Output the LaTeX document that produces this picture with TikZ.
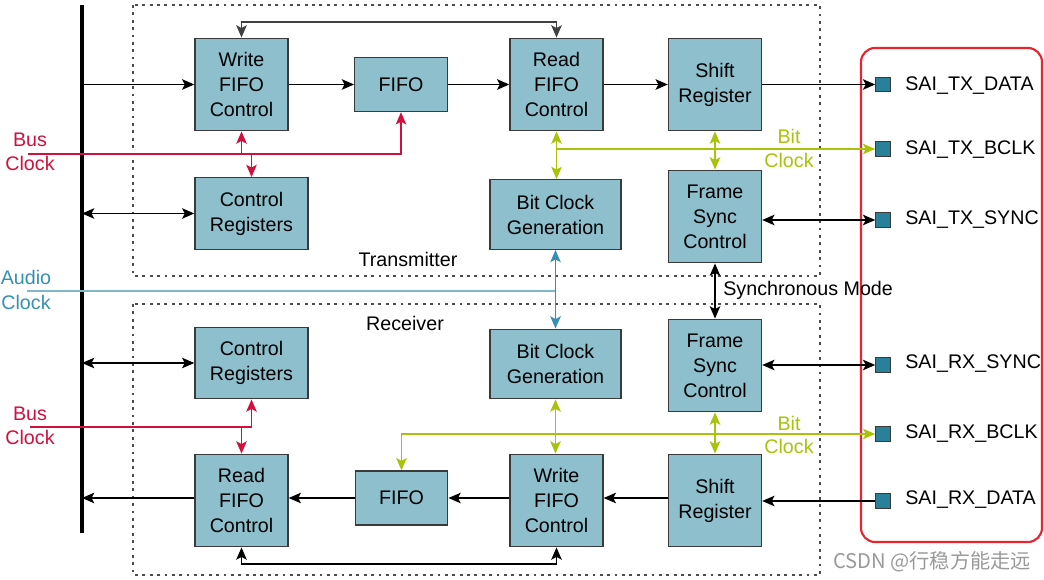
\documentclass[tikz,border=0pt]{standalone}
\usepackage{fontspec}
\setmainfont{Liberation Sans}
\newfontfamily\cjkfont{Noto Sans CJK SC}
\usetikzlibrary{arrows.meta}
\definecolor{boxfill}{HTML}{8DBFCD}
\definecolor{boxline}{HTML}{3A3A3A}
\definecolor{pinfill}{HTML}{2A8098}
\definecolor{busred}{HTML}{D1103D}
\definecolor{bitylw}{HTML}{A9C20A}
\definecolor{audioteal}{HTML}{3590B3}
\definecolor{audioline}{HTML}{7FB8CB}
\definecolor{framered}{HTML}{E8242C}
\tikzset{
  >={Stealth[length=7pt,width=6pt,inset=1.6pt]},
  blk/.style={draw=boxline,fill=boxfill,line width=0.8pt,align=center,inner sep=0pt,font=\fontsize{11.2}{14.2}\selectfont},
  tall/.style={minimum width=1.86cm,minimum height=1.85cm},
  flat/.style={minimum width=1.85cm,minimum height=1.08cm},
  wide/.style={minimum width=2.26cm,minimum height=1.43cm},
  wider/.style={minimum width=2.62cm,minimum height=1.39cm},
  pin/.style={draw=boxline,fill=pinfill,minimum size=0.29cm,inner sep=0pt,line width=0.6pt},
  txt/.style={align=center,inner sep=0pt,font=\fontsize{11.2}{14.2}\selectfont},
  pinlbl/.style={txt,anchor=west},
  redtxt/.style={txt,text=busred,font=\fontsize{11.2}{13.6}\selectfont},
  ylwtxt/.style={txt,text=bitylw,font=\fontsize{11.2}{13.6}\selectfont},
  tealtxt/.style={txt,text=audioteal,font=\fontsize{11.2}{14.2}\selectfont},
  arr/.style={->,line width=0.7pt},
  dblarr/.style={<->,line width=0.7pt},
  redarr/.style={->,busred,line width=0.7pt},
  ylwarr/.style={bitylw,line width=0.7pt},
  tealarr/.style={<->,audioteal,line width=0.7pt},
  tealln/.style={audioline,line width=0.8pt},
  bus/.style={line width=1.8pt},
  dotbox/.style={draw=black!70,line width=0.6pt,dash pattern=on 1.6pt off 2.6pt},
  redbox/.style={draw=framered,line width=1.2pt,rounded corners=8pt}
}
\begin{document}
\begin{tikzpicture}[x=0.02cm,y=-0.02cm]
\useasboundingbox (0,0) rectangle (1044,580);
\draw[dotbox] (133,5) rectangle (820,276);
\draw[dotbox] (133,304) rectangle (820,575);
\draw[redbox] (861,48) rectangle (1042,542);
\coordinate (bustop) at (82,5);
\coordinate (busbot) at (82,533);
\draw[bus] (bustop) -- (busbot);

\node[blk,tall] (txwfc) at (241.5,84.5) {Write\\FIFO\\Control};
\node[blk,flat] (txfifo) at (401,84.5) {FIFO};
\node[blk,tall] (txrfc) at (556.5,84.5) {Read\\FIFO\\Control};
\node[blk,tall] (txsr) at (715,84.5) {Shift\\Register};
\node[blk,wide] (txcr) at (251.5,213.5) {Control\\Registers};
\node[blk,wider] (txbcg) at (555.5,214.5) {Bit Clock\\Generation};
\node[blk,tall] (txfsc) at (715,216.5) {Frame\\Sync\\Control};

\node[blk,wide] (rxcr) at (251.5,363) {Control\\Registers};
\node[blk,wider] (rxbcg) at (555.5,364) {Bit Clock\\Generation};
\node[blk,tall] (rxfsc) at (715,365.5) {Frame\\Sync\\Control};
\node[blk,tall] (rxrfc) at (241.5,500.5) {Read\\FIFO\\Control};
\node[blk,flat] (rxfifo) at (401.5,498) {FIFO};
\node[blk,tall] (rxwfc) at (556.5,500.5) {Write\\FIFO\\Control};
\node[blk,tall] (rxsr) at (715,500.5) {Shift\\Register};

\node[pin] (txdata) at (883,84.5) {};
\node[pin] (txbclk) at (883,149) {};
\node[pin] (txsync) at (883,220) {};
\node[pin] (rxsync) at (883,365) {};
\node[pin] (rxbclk) at (883,434) {};
\node[pin] (rxdata) at (883,501) {};
\node[pinlbl] (txdatalbl) at (905,86) {SAI\_TX\_DATA};
\node[pinlbl] (txbclklbl) at (905,150) {SAI\_TX\_BCLK};
\node[pinlbl] (txsynclbl) at (905,220) {SAI\_TX\_SYNC};
\node[pinlbl] (rxsynclbl) at (905,364) {SAI\_RX\_SYNC};
\node[pinlbl] (rxbclklbl) at (905,434) {SAI\_RX\_BCLK};
\node[pinlbl] (rxdatalbl) at (905,500) {SAI\_RX\_DATA};

\draw[arr] (txwfc.west -| bustop) -- (txwfc.west);
\draw[arr] (txwfc) -- (txfifo);
\draw[arr] (txfifo) -- (txrfc);
\draw[arr] (txrfc) -- (txsr);
\draw[arr] (txsr) -- (txdata);
\draw[dblarr] (txcr.west -| bustop) -- (txcr.west);
\coordinate (txfb) at (400,22);
\draw[dblarr,black!75] (txwfc.north) |- (txfb) -| (txrfc.north);
\draw[dblarr] (txsync.west -| txfsc.east) -- (txsync.west);

\coordinate (txbus) at (28,154);
\draw[redarr] (txbus) -| (txfifo.south);
\draw[redarr] (txwfc.south |- txbus) -- (txwfc.south);
\draw[redarr] (txcr.north |- txbus) -- (txcr.north);
\node[redtxt] (txbuslbl) at (30,152) {Bus\\Clock};

\draw[ylwarr,<->] (txrfc.south) -- (txrfc.south |- txbcg.north);
\draw[ylwarr,->] (txrfc.south |- txbclk) -- (txbclk.west);
\draw[ylwarr,<->] (txsr.south) -- (txfsc.north);
\node[ylwtxt] (txbitlbl) at (789,148.5) {Bit\\Clock};

\coordinate (audio) at (27,291);
\draw[tealln] (audio) -- (audio -| txbcg.south);
\draw[tealarr] (txbcg.south) -- (rxbcg.north);
\node[tealtxt] (audiolbl) at (26,289.5) {Audio\\Clock};

\draw[dblarr] (txfsc.south) -- (rxfsc.north);
\node[txt,anchor=west] (synclbl) at (723,290) {Synchronous Mode};
\node[txt] (txlbl) at (408,259) {Transmitter};
\node[txt] (rxlbl) at (405,323) {Receiver};

\draw[dblarr] (rxcr.west -| bustop) -- (rxcr.west);
\coordinate (rxbus) at (30,427);
\draw[redarr] (rxbus) -| (rxcr.south);
\draw[redarr] (rxrfc.north |- rxbus) -- (rxrfc.north);
\node[redtxt] (rxbuslbl) at (30,425.5) {Bus\\Clock};
\draw[dblarr] (rxsync.west -| rxfsc.east) -- (rxsync.west);

\draw[ylwarr,<->] (rxbcg.south) -- (rxbcg.south |- rxwfc.north);
\draw[ylwarr,<->] (rxfsc.south) -- (rxsr.north);
\draw[ylwarr,<->] (rxfifo.north) |- (rxbclk.west);
\node[ylwtxt] (rxbitlbl) at (789,435) {Bit\\Clock};

\draw[arr] (rxdata.west) -- (rxdata.west -| rxsr.east);
\draw[arr] (rxsr.west |- rxfifo) -- (rxwfc.east |- rxfifo);
\draw[arr] (rxwfc.west |- rxfifo) -- (rxfifo.east);
\draw[arr] (rxfifo.west) -- (rxfifo.west -| rxrfc.east);
\draw[arr] (rxrfc.west |- rxfifo) -- (rxfifo -| bustop);
\coordinate (rxfb) at (400,564);
\draw[dblarr] (rxrfc.south) |- (rxfb) -| (rxwfc.south);

\node[txt,text=black!40,font=\cjkfont\fontsize{11.5}{13}\selectfont] (wm) at (932,562) {CSDN @行稳方能走远};
\end{tikzpicture}
\end{document}
